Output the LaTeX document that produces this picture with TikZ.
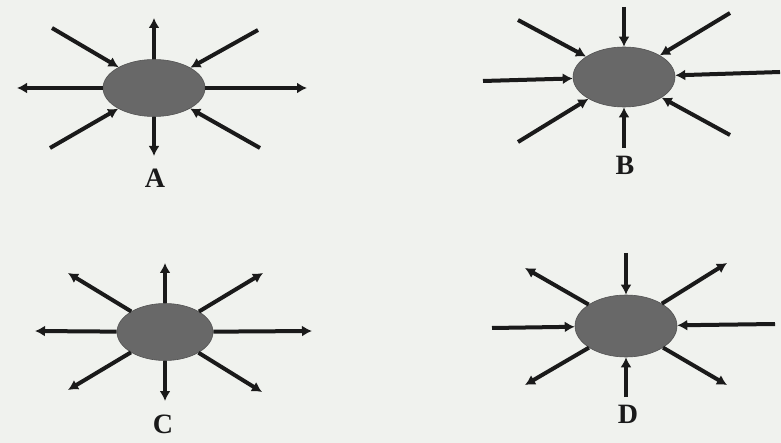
\documentclass[tikz,border=0pt]{standalone}
\usepackage{fontspec}
\setmainfont{Liberation Serif}
\usetikzlibrary{arrows.meta,shapes.geometric}
\definecolor{bgc}{HTML}{F0F2EE}
\definecolor{blob}{HTML}{686868}
\definecolor{ink}{HTML}{1A1A1A}
\tikzset{
  blobnode/.style={ellipse, fill=blob, draw=blob!80!black, line width=0.6pt, inner sep=0pt},
  ray/.style={draw=ink, line width=4pt, -{Latex[length=10pt,width=11pt]}},
  lbl/.style={font=\fontsize{28}{32}\selectfont\bfseries, text=ink, inner sep=0pt}
}
\begin{document}
\begin{tikzpicture}[x=1pt,y=-1pt]
\fill[bgc] (0,0) rectangle (781,443);
\useasboundingbox (0,0) rectangle (781,443);
% ---------- A ----------
\node[blobnode, minimum width=102pt, minimum height=57pt] (A) at (154,88) {};
\coordinate (An) at (154,18); \coordinate (As) at (154,156);
\coordinate (Aw) at (17,88);  \coordinate (Ae) at (307,88);
\coordinate (Anw) at (52,28); \coordinate (Ane) at (258,30);
\coordinate (Asw) at (50,148); \coordinate (Ase) at (260,148);
\draw[ray] (A) -- (An); \draw[ray] (A) -- (As);
\draw[ray] (A) -- (Aw); \draw[ray] (A) -- (Ae);
\draw[ray] (Anw) -- (A); \draw[ray] (Ane) -- (A);
\draw[ray] (Asw) -- (A); \draw[ray] (Ase) -- (A);
\node[lbl] (LA) at (155,178) {A};
% ---------- B ----------
\node[blobnode, minimum width=102pt, minimum height=60pt] (B) at (624,77) {};
\coordinate (Bn) at (624,7); \coordinate (Bs) at (624,148);
\coordinate (Bw) at (483,81);  \coordinate (Be) at (780,72);
\coordinate (Bnw) at (518,20); \coordinate (Bne) at (730,13);
\coordinate (Bsw) at (518,142); \coordinate (Bse) at (730,135);
\draw[ray] (Bn) -- (B); \draw[ray] (Bs) -- (B);
\draw[ray] (Bw) -- (B); \draw[ray] (Be) -- (B);
\draw[ray] (Bnw) -- (B); \draw[ray] (Bne) -- (B);
\draw[ray] (Bsw) -- (B); \draw[ray] (Bse) -- (B);
\node[lbl] (LB) at (625,165) {B};
% ---------- C ----------
\node[blobnode, minimum width=96pt, minimum height=57pt] (C) at (165,332) {};
\coordinate (Cn) at (165,263); \coordinate (Cs) at (165,401);
\coordinate (Cw) at (35,331);  \coordinate (Ce) at (312,331);
\coordinate (Cnw) at (68,273); \coordinate (Cne) at (263,273);
\coordinate (Csw) at (68,390); \coordinate (Cse) at (262,392);
\draw[ray] (C) -- (Cn); \draw[ray] (C) -- (Cs);
\draw[ray] (C) -- (Cw); \draw[ray] (C) -- (Ce);
\draw[ray] (C) -- (Cnw); \draw[ray] (C) -- (Cne);
\draw[ray] (C) -- (Csw); \draw[ray] (C) -- (Cse);
\node[lbl] (LC) at (163,424) {C};
% ---------- D ----------
\node[blobnode, minimum width=102pt, minimum height=62pt] (D) at (626,326) {};
\coordinate (Dn) at (626,253); \coordinate (Ds) at (626,397);
\coordinate (Dw) at (492,328);  \coordinate (De) at (775,324);
\coordinate (Dnw) at (525,268); \coordinate (Dne) at (727,263);
\coordinate (Dsw) at (525,385); \coordinate (Dse) at (727,385);
\draw[ray] (Dn) -- (D); \draw[ray] (Ds) -- (D);
\draw[ray] (Dw) -- (D); \draw[ray] (De) -- (D);
\draw[ray] (D) -- (Dnw); \draw[ray] (D) -- (Dne);
\draw[ray] (D) -- (Dsw); \draw[ray] (D) -- (Dse);
\node[lbl] (LD) at (628,414) {D};
\end{tikzpicture}
\end{document}
